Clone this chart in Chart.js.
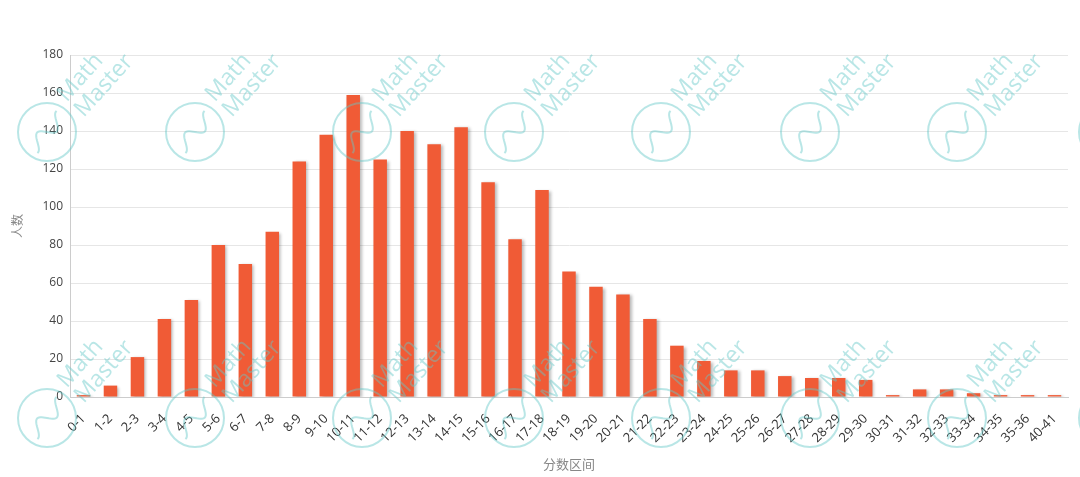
<!DOCTYPE html>
<html>
<head>
<meta charset="utf-8">
<script src="https://cdn.jsdelivr.net/npm/chart.js@4.4.1/dist/chart.umd.min.js"></script>
<style>
  html, body { margin: 0; padding: 0; background: #fff; }
  #wrap { width: 1080px; height: 477px; position: relative; }
</style>
</head>
<body>
<div id="wrap"><canvas id="chart"></canvas></div>
<script>
const categories = ['0-1','1-2','2-3','3-4','4-5','5-6','6-7','7-8','8-9','9-10',
  '10-11','11-12','12-13','13-14','14-15','15-16','16-17','17-18','18-19','19-20',
  '20-21','21-22','22-23','23-24','24-25','25-26','26-27','27-28','28-29','29-30',
  '30-31','31-32','32-33','33-34','34-35','35-36','40-41'];
const counts = [1, 6, 21, 41, 51, 80, 70, 87, 124, 138,
  159, 125, 140, 133, 142, 113, 83, 109, 66, 58,
  54, 41, 27, 19, 14, 14, 11, 10, 10, 9,
  1, 4, 4, 2, 1, 1, 1];
const yTicks = [0, 20, 40, 60, 80, 100, 120, 140, 160, 180];

const FONT = "'Open Sans', 'Noto Sans CJK SC', sans-serif";

// soft shadow behind the bars
const barShadow = {
  id: 'barShadow',
  beforeDatasetsDraw(chart) {
    const ctx = chart.ctx;
    ctx.save();
    ctx.shadowColor = 'rgba(0,0,0,0.28)';
    ctx.shadowOffsetX = 2;
    ctx.shadowOffsetY = 1;
    ctx.shadowBlur = 3;
  },
  afterDatasetsDraw(chart) {
    chart.ctx.restore();
  }
};

// "Math Master" watermark tiles
const watermark = {
  id: 'watermark',
  afterDraw(chart) {
    const ctx = chart.ctx;
    const xs = [47, 195, 362, 514, 661, 810, 957, 1108];
    const ys = [132, 418];
    ctx.save();
    ctx.strokeStyle = 'rgba(100,200,200,0.45)';
    ctx.fillStyle = 'rgba(100,200,200,0.45)';
    ctx.lineWidth = 2;
    ctx.font = '23px ' + FONT;
    ctx.textBaseline = 'alphabetic';
    ys.forEach(cy => xs.forEach(cx => {
      ctx.save();
      ctx.translate(cx, cy);
      ctx.beginPath();
      ctx.arc(0, 0, 29, 0, Math.PI * 2);
      ctx.stroke();
      ctx.rotate(-48 * Math.PI / 180);
      ctx.beginPath();
      for (let t = -22; t <= 22; t += 1) {
        const y = 7 * Math.sin(t / 4.5);
        if (t === -22) ctx.moveTo(t, y); else ctx.lineTo(t, y);
      }
      ctx.stroke();
      ctx.fillText('Math', 35, -5);
      ctx.fillText('Master', 35, 18);
      ctx.restore();
    }));
    ctx.restore();
  }
};

new Chart(document.getElementById('chart'), {
  type: 'bar',
  data: {
    labels: categories,
    datasets: [{
      label: '人数',
      data: counts,
      backgroundColor: '#f05b36',
      borderWidth: 0,
      barPercentage: 0.5,
      categoryPercentage: 1.0
    }]
  },
  options: {
    responsive: true,
    maintainAspectRatio: false,
    animation: false,
    layout: { padding: { top: 55, right: 12, left: 0, bottom: 0 } },
    plugins: { legend: { display: false }, tooltip: { enabled: false } },
    scales: {
      x: {
        grid: { display: false },
        border: { display: true, color: '#cccccc' },
        ticks: {
          autoSkip: false, minRotation: 45, maxRotation: 45, padding: 6,
          color: '#333', font: { family: FONT, size: 13 }
        },
        title: {
          display: true, text: '分数区间', color: '#888',
          font: { family: FONT, size: 13 }, padding: { top: 9 }
        },
        afterFit(s) { s.height = 80; }
      },
      y: {
        min: 0, max: 180,
        afterBuildTicks(s) { s.ticks = yTicks.map(v => ({ value: v })); },
        grid: { color: '#e6e6e6', drawTicks: false },
        border: { display: true, color: '#cccccc' },
        ticks: { padding: 7, color: '#444', font: { family: FONT, size: 12 } },
        title: {
          display: true, text: '人数', color: '#888',
          font: { family: FONT, size: 12 }, padding: { top: 11 }
        },
        afterFit(s) { s.width = 70; }
      }
    }
  },
  plugins: [barShadow, watermark]
});
</script>
</body>
</html>
